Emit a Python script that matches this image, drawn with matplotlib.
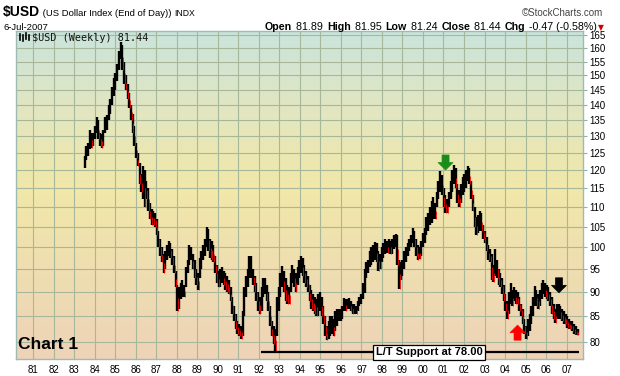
import numpy as np
import matplotlib
matplotlib.use("Agg")
import matplotlib.pyplot as plt
from matplotlib.ticker import FixedLocator, FixedFormatter, NullLocator
from matplotlib.patches import Polygon
from matplotlib.lines import Line2D
from matplotlib.colors import LinearSegmentedColormap

LOW = [
    120.5, 123, 124, 126, 126.5, 127, 129,                                   # 1983 (from mid-year)
    131, 129, 127, 126.5, 127, 131, 132, 135, 137, 140, 143, 145,           # 1984
    148, 152, 156, 152, 147, 145, 142, 139, 135, 131, 127, 123.5,           # 1985
    121, 116, 114, 112, 110, 112, 109, 107, 105.5, 105.5, 105, 103,         # 1986
    100, 98, 96.5, 94, 95, 97, 98, 97.5, 96, 94, 91, 86,                    # 1987
    86.5, 88.5, 89, 89, 91, 94, 96, 97, 95, 93, 91.5, 90.5,                 # 1988
    93, 95, 97, 98, 100, 99, 97.5, 97, 96.5, 94, 92, 91,                    # 1989
    91, 92, 91.5, 90.5, 90, 89.5, 88, 85.5, 84, 82.5, 81.5, 81,             # 1990
    80.6, 81, 85, 89, 91, 93, 93, 91.5, 90, 88, 86, 85.5,                   # 1991
    86, 89, 89.5, 88, 86, 83, 81, 79.5, 78, 81, 86, 89,                     # 1992
    91, 90, 88, 87.5, 87.5, 90, 92, 91, 90, 91.5, 93, 94,                   # 1993
    93.5, 92, 91, 90, 88, 86.5, 86, 85.5, 85, 85, 86, 85,                   # 1994
    83.5, 81, 80.3, 80.5, 81, 81.5, 81, 82, 83, 84, 84, 84.5,               # 1995
    86, 86, 86.5, 86.5, 86, 85.5, 85.5, 85.5, 86, 87, 87.5, 88.5,           # 1996
    89.7, 93, 94, 95.5, 96, 96.5, 97, 96.5, 94.6, 95, 96.5, 97.5,           # 1997
    98.5, 98.7, 98.7, 98.5, 98.5, 99.5, 100, 96, 90.7, 92.5, 93.5, 95,      # 1998
    96.5, 98, 99, 100, 101, 100, 98, 97, 97.3, 98, 100, 101,                # 1999
    103, 104, 105.5, 106, 107, 107, 110, 112, 114, 113, 110, 108.5,         # 2000
    108.5, 110, 112, 114, 116, 115, 111, 110, 111, 113, 114, 115,           # 2001
    117, 116, 112, 109, 105, 103, 103.5, 104, 104, 102, 101, 99,            # 2002
    97, 96.5, 92.5, 92.2, 93.5, 93, 91.5, 91, 89.5, 88, 86, 84.5,           # 2003
    85.5, 87.5, 87, 88, 87.5, 87.5, 86, 85, 83.5, 81.5, 80.6, 81,           # 2004
    82, 83.5, 85, 87, 87, 86.5, 87, 88.5, 89.5, 89, 88.5, 88,               # 2005
    87, 85.5, 84.5, 83.7, 84.5, 84.5, 84.5, 84, 83.5, 83.5, 82.7, 82.5,     # 2006
    82.5, 82, 81.5, 81.3, 81.2,                                             # 2007
]
HIGH = [
    124, 127, 128, 132, 131, 131, 133,
    136, 135, 131, 130.5, 132, 136, 136.5, 140, 142, 146, 149, 151,
    154, 159, 162.5, 161, 155, 150, 147, 144, 140, 137, 133, 128,
    125, 122, 119, 121, 120, 117, 115, 111, 109.5, 109, 108.5, 107,
    104, 102, 100, 98.5, 99, 100.5, 101.5, 101, 99.5, 98, 94.5, 91.5,
    91, 92, 92.5, 91.5, 95.5, 97, 100.5, 100, 98.5, 97, 95, 94,
    97.5, 99, 100.5, 102, 105, 104.5, 102, 101.5, 100.5, 98, 96, 94.5,
    95, 95.5, 94.5, 94, 93.5, 92.5, 91, 89, 87, 85.5, 84, 83.5,
    83, 86, 91, 93.5, 95, 98, 98, 95, 93.5, 92, 90, 89,
    91, 93, 93, 91.5, 90, 87, 84, 83, 82.5, 89, 91, 94,
    95.7, 94.5, 93, 91.5, 91, 94, 96, 95, 94, 95.5, 97, 98,
    97.5, 96, 94.5, 93.5, 91.5, 90.5, 89.5, 89, 88.5, 89.5, 90, 89,
    87, 85, 83, 84, 85, 85, 84.5, 86, 86.5, 86.5, 86.5, 87,
    88.7, 88.5, 88.5, 88.7, 88, 87.5, 87.5, 87, 88, 89, 89.5, 92,
    95, 96.5, 97, 99, 100, 100.5, 101.2, 101, 99, 98.5, 100, 101,
    102, 101.5, 102, 101.5, 102, 103, 103.2, 103, 97, 96.5, 97, 99,
    100, 101, 102, 103, 104.7, 104, 102, 100.5, 100, 101.5, 103.5, 104.7,
    107.5, 108.5, 110, 111.5, 112.5, 111, 114, 117, 119.6, 118.5, 115, 113,
    112, 114, 117, 120, 121.3, 120.5, 116, 114.5, 116, 118, 119, 120,
    121, 120.5, 117, 113, 110, 107.5, 108, 109, 108.5, 105.5, 104, 102.5,
    100.5, 99.5, 98.5, 96, 99.5, 97, 95, 94, 93, 91.5, 89.5, 88,
    90, 92, 90.5, 91, 90.5, 90, 89, 87.5, 86.5, 84.5, 83, 84.5,
    85.5, 87, 89, 91.3, 90.5, 89.5, 90.5, 92, 92.5, 92, 91.5, 91,
    90, 89, 87.5, 86.5, 87.5, 87.5, 87, 86.5, 86, 85.5, 85, 84.5,
    84, 84, 83.5, 83, 82.5,
]
FIRST_BAR, LAST_BAR = 1983.50, 2007.54          # plotted positions of first / last bar (years)
YEARS = list(range(1981, 2008))
YEAR_LABELS = [f"{y % 100:02d}" for y in YEARS]
PRICE_TICKS = list(range(80, 166, 5))
SUPPORT = 78.00
SUPPORT_FROM, SUPPORT_TO = 1992.1, 2007.6
LAST_CLOSE = 81.44
ARROWS = [  # (year, price at tip, direction, colour)
    (2001.10, 120.0, "down", "#1a8c1a"),
    (2004.61, 83.2, "up", "#ff0000"),
    (2006.63, 89.8, "down", "#000000"),
]

W, H = 620, 376
plt.rcParams["font.family"] = ["Liberation Sans", "DejaVu Sans"]
fig = plt.figure(figsize=(W / 100, H / 100), dpi=100)
fig.patch.set_facecolor("white")

L, R, T, B = 16, 582.7, 31, 359
ax = fig.add_axes([L / W, 1 - B / H, (R - L) / W, (B - T) / H])

# background gradient
cmap = LinearSegmentedColormap.from_list(
    "bg", [(0.0, "#eed3b7"), (0.30, "#efdfb0"), (0.52, "#f1e8a8"), (0.75, "#e3e6bf"), (1.0, "#cae4dc")])
grad = np.linspace(0, 1, 256).reshape(-1, 1)
ax.imshow(grad, extent=(0, 1, 0, 1), transform=ax.transAxes, aspect="auto",
          cmap=cmap, origin="lower", zorder=0, interpolation="bilinear")

ax.set_yscale("log")
ax.set_xlim(1980.157, 2007.787)
ax.set_ylim(76.81, 166.6)

# grid
ax.set_axisbelow(True)
ax.xaxis.set_major_locator(FixedLocator(YEARS))
ax.xaxis.set_major_formatter(FixedFormatter(YEAR_LABELS))
ax.yaxis.set_major_locator(FixedLocator(PRICE_TICKS))
ax.yaxis.set_major_formatter(FixedFormatter([str(v) for v in PRICE_TICKS]))
ax.yaxis.set_minor_locator(NullLocator())
ax.xaxis.set_minor_locator(NullLocator())
ax.grid(True, color="#a7b799", lw=0.8, zorder=0.5)
ax.yaxis.tick_right()
ax.tick_params(axis="y", which="major", length=3, width=0.8, color="#8fb3aa", pad=2, labelsize=7)
ax.tick_params(axis="x", which="major", length=0, pad=4, labelsize=7)
for s in ax.spines.values():
    s.set_color("#9dbbb3")
    s.set_linewidth(1)

# bars
xs = np.linspace(FIRST_BAR, LAST_BAR, len(HIGH))
lo = np.array(LOW)
hi = np.array(HIGH)
ax.vlines(xs, lo, hi, color="black", lw=1.7, zorder=2)
mid = (lo + hi) / 2
down = np.r_[False, mid[1:] < mid[:-1]]
ax.vlines(xs[down] + 0.03, lo[down], (mid[down] + lo[down]) / 2 + (hi[down] - lo[down]) * 0.25,
          color="#ff0000", lw=0.6, zorder=3)

# support line + label
ax.hlines(SUPPORT, SUPPORT_FROM, SUPPORT_TO, color="black", lw=1.6, zorder=4)
ax.text(2000.29, SUPPORT, f"L/T Support at {SUPPORT:.2f}", ha="center", va="center",
        fontsize=8, fontweight="bold", zorder=5,
        bbox=dict(boxstyle="square,pad=0.22", fc="white", ec="black", lw=0.9))

# arrows (pixel shapes anchored on data points)
fig.canvas.draw()
for yr, price, direction, col in ARROWS:
    px, py = ax.transData.transform((yr, price))
    s = 1 if direction == "down" else -1
    shape = [(0, 0), (7.5, 7.5 * s), (3.5, 7.5 * s), (3.5, 15 * s), (-3.5, 15 * s), (-3.5, 7.5 * s), (-7.5, 7.5 * s)]
    verts = [(px + dx, py + dy) for dx, dy in shape]
    ax.add_patch(Polygon(verts, closed=True, transform=None, fc=col, ec=col, lw=0.5, zorder=6))

# small legend icon + in-chart legend text
for dx, y0, y1 in [(20, 34, 40), (23, 35, 41), (26, 33, 39), (29, 35, 40)]:
    fig.add_artist(Line2D([dx / W, dx / W], [1 - y1 / H, 1 - y0 / H], color="black", lw=1.2))
fig.text(32 / W, 1 - 41 / H, f"$USD (Weekly) {LAST_CLOSE:.2f}", family="DejaVu Sans Mono",
         fontsize=7.3, va="baseline", color="#111111")
ax.text(0.004, 0.02, "Chart 1", transform=ax.transAxes, fontsize=12.5, fontweight="bold",
        va="bottom", ha="left", zorder=7)

# header
renderer = fig.canvas.get_renderer()


def seq(x0, ybase, pieces, gap=0):
    x = x0
    for txt, kw in pieces:
        t = fig.text(x / W, 1 - ybase / H, txt, va="baseline", ha="left", **kw)
        bb = t.get_window_extent(renderer)
        x += bb.width + gap
    return x


seq(3, 16, [("$USD", dict(fontsize=10, fontweight="bold")),
            (" (US Dollar Index (End of Day)) ", dict(fontsize=6.8)),
            ("INDX", dict(fontsize=6.2))])
fig.text(3 / W, 1 - 30 / H, "6-Jul-2007", fontsize=6.8, va="baseline")
fig.text(603 / W, 1 - 16 / H, "\u00a9StockCharts.com", fontsize=7, va="baseline", ha="right", color="#444444")
fs = 7.7
seq(265, 30, [("Open", dict(fontsize=fs, fontweight="bold")), (" 81.89 ", dict(fontsize=fs)),
              ("High", dict(fontsize=fs, fontweight="bold")), (" 81.95 ", dict(fontsize=fs)),
              ("Low", dict(fontsize=fs, fontweight="bold")), (" 81.24 ", dict(fontsize=fs)),
              ("Close", dict(fontsize=fs, fontweight="bold")), (" 81.44 ", dict(fontsize=fs)),
              ("Chg", dict(fontsize=fs, fontweight="bold")), (" -0.47 (-0.58%)", dict(fontsize=fs)),
              ("\u25bc", dict(fontsize=5.5, color="#cc0000", family="DejaVu Sans"))], gap=1)

fig.savefig("out.png", dpi=100)
